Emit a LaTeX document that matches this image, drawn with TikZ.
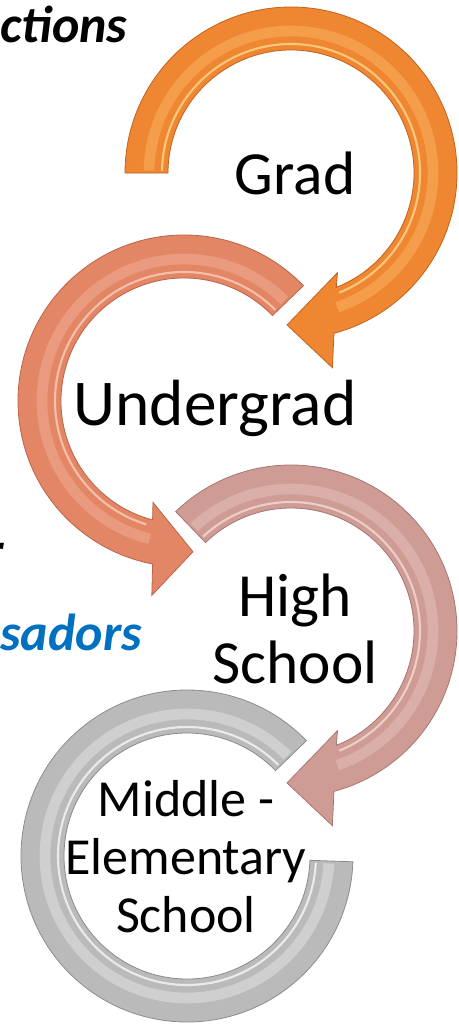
\documentclass[tikz,border=0pt]{standalone}
\usepackage{fontspec}
\setmainfont{Carlito}
\usepackage{tikz}

\begin{document}
\begin{tikzpicture}[x=0.75pt,y=0.75pt,yscale=-1,xscale=1,
  ring/.style={line width=0.6pt, line join=miter},
  glow/.style={line width=8pt, line cap=butt, draw opacity=0.55},
  shine/.style={line width=1.6pt, draw opacity=0.8},
  gradring/.style={ring, color={rgb, 255:red, 196; green, 98; blue, 28 }, fill={rgb, 255:red, 238; green, 134; blue, 50 }},
  undergradring/.style={ring, color={rgb, 255:red, 186; green, 100; blue, 72 }, fill={rgb, 255:red, 226; green, 134; blue, 102 }},
  highring/.style={ring, color={rgb, 255:red, 168; green, 118; blue, 112 }, fill={rgb, 255:red, 206; green, 156; blue, 149 }},
  middlering/.style={ring, color={rgb, 255:red, 140; green, 140; blue, 140 }, fill={rgb, 255:red, 186; green, 186; blue, 186 }},
  stage/.style={inner sep=0pt, align=center, text=black},
  bigtext/.style={stage, font=\fontsize{46}{50}\selectfont},
  smalltext/.style={stage, font=\fontsize{39}{43.5}\selectfont},
  side/.style={inner sep=0pt, font=\fontsize{39}{43}\selectfont\bfseries\itshape}]
\useasboundingbox (0,0) rectangle (458,1027);

%Arrow: Grad
\begin{scope}[shift={(291,173)}]
\draw [gradring] (-180:166) arc [start angle=-180, end angle=75, radius=166] -- (78:199) -- (91.5:152) -- (65:110) -- (68.4:123) arc [start angle=68.4, end angle=-180, radius=123] -- cycle ;
\draw [glow, color={rgb, 255:red, 250; green, 178; blue, 98 }] (-179:142) arc [start angle=-179, end angle=71, radius=142] ;
\draw [shine, color={rgb, 255:red, 255; green, 216; blue, 140 }] (-179:129) arc [start angle=-179, end angle=68, radius=129] ;
\end{scope}

%Arrow: Undergrad
\begin{scope}[shift={(184,401)}]
\draw [undergradring] (-44:166) arc [start angle=-44, end angle=-259.1, radius=166] -- (-260.6:197) -- (-273.4:151) -- (-253:106) -- (-255.2:123) arc [start angle=-255.2, end angle=-44, radius=123] -- cycle ;
\draw [glow, color={rgb, 255:red, 242; green, 172; blue, 146 }] (-45:142) arc [start angle=-45, end angle=-256, radius=142] ;
\draw [shine, color={rgb, 255:red, 250; green, 206; blue, 186 }] (-45:129) arc [start angle=-45, end angle=-253, radius=129] ;
\end{scope}

%Arrow: High School
\begin{scope}[shift={(291,631)}]
\draw [highring] (-134:166) arc [start angle=-134, end angle=75, radius=166] -- (78:199) -- (91.5:152) -- (65:110) -- (68.4:123) arc [start angle=68.4, end angle=-134, radius=123] -- cycle ;
\draw [glow, color={rgb, 255:red, 230; green, 192; blue, 186 }] (-133:142) arc [start angle=-133, end angle=71, radius=142] ;
\draw [shine, color={rgb, 255:red, 244; green, 218; blue, 212 }] (-133:129) arc [start angle=-133, end angle=68, radius=129] ;
\end{scope}

%Arrow: Middle - Elementary School
\begin{scope}[shift={(187,856)}]
\draw [middlering] (-44:166) arc [start angle=-44, end angle=-358, radius=166] -- (-358:123) arc [start angle=-358, end angle=-44, radius=123] -- cycle ;
\draw [glow, color={rgb, 255:red, 226; green, 226; blue, 226 }] (-45:142) arc [start angle=-45, end angle=-357, radius=142] ;
\draw [shine, color={rgb, 255:red, 246; green, 246; blue, 246 }] (-45:129) arc [start angle=-45, end angle=-357, radius=129] ;
\end{scope}

% Text Node
\node [bigtext, anchor=base] (grad) at (295,195) {Grad};
% Text Node
\node [bigtext, anchor=base, font=\fontsize{49}{52}\selectfont] (undergrad) at (215,425) {Undergrad};
% Text Node
\node [bigtext] (high) at (295,629) {High\\School};
% Text Node
\node [smalltext] (middle) at (186,857) {Middle -\\Elementary\\School};
% Text Node
\node [side, anchor=base west] (ctions) at (0,43) {ctions};
% Text Node
\node [side, anchor=base west, text={rgb, 255:red, 0; green, 112; blue, 192 }] (sadors) at (0,650) {sadors};
% Text Node
\node [side, anchor=base east] (cutoff) at (4,568) {r};

\end{tikzpicture}
\end{document}
